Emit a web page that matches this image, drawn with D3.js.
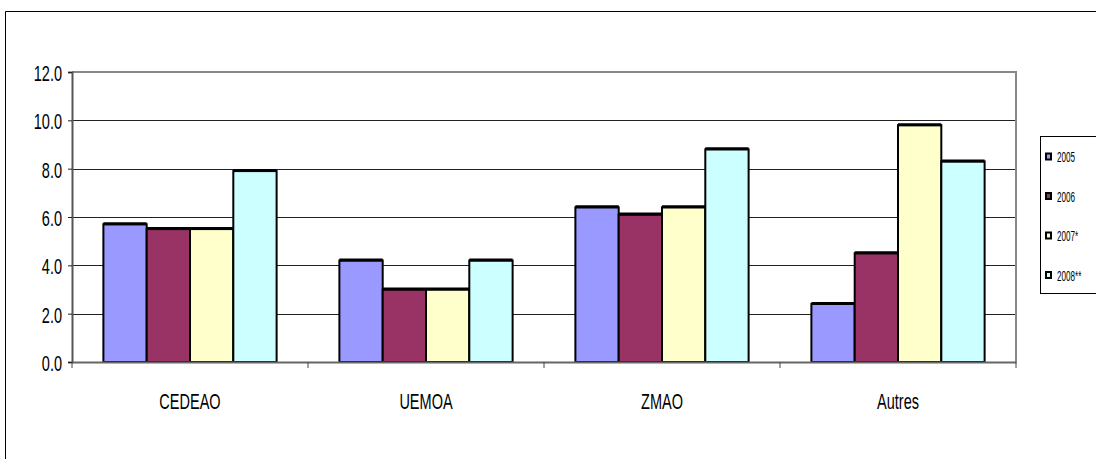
<!DOCTYPE html>
<html>
<head>
<meta charset="utf-8">
<script src="https://cdn.jsdelivr.net/npm/d3@7"></script>
<style>
  body { margin: 0; background: #fff; }
  text { font-family: "Liberation Sans", Arial, sans-serif; fill: #000; }
</style>
</head>
<body>
<div id="chart"></div>
<script>
(function() {

  var categories = ["CEDEAO", "UEMOA", "ZMAO", "Autres"];
  var seriesNames = ["2005", "2006", "2007*", "2008**"];
  var colors = ["#9999FF", "#993366", "#FFFFCC", "#CCFFFF"];
  var v2005 = [5.7, 4.2, 6.4, 2.4];
  var v2006 = [5.5, 3.0, 6.1, 4.5];
  var v2007 = [5.5, 3.0, 6.4, 9.8];
  var v2008 = [7.9, 4.2, 8.8, 8.3];
  var yTicks = [0, 2, 4, 6, 8, 10, 12];

  var series = [v2005, v2006, v2007, v2008];

  var width = 1096, height = 459;
  var left = 72, right = 1016, top = 72, bottom = 362;
  // the source uses a tall, squeezed font
  var squeeze = 0.66;

  var svg = d3.select("#chart").append("svg")
      .attr("width", width)
      .attr("height", height);

  // outer chart frame (cut by the window on right and bottom)
  svg.append("path")
      .attr("d", "M5.5," + height + " V11.5 H" + width)
      .attr("fill", "none")
      .attr("stroke", "#000")
      .attr("stroke-width", 1);

  var y = d3.scaleLinear().domain([0, 12]).range([bottom, top]);
  var x0 = d3.scaleBand().domain(categories).range([left, right])
      .paddingInner(0.266).paddingOuter(0.133);
  var x1 = d3.scaleBand().domain(d3.range(series.length)).range([0, x0.bandwidth()]);

  // gridlines
  svg.append("g").selectAll("line")
    .data(yTicks.filter(t => t > 0 && t < 12))
    .enter().append("line")
      .attr("x1", left).attr("x2", right)
      .attr("y1", d => Math.round(y(d)) + 0.5)
      .attr("y2", d => Math.round(y(d)) + 0.5)
      .attr("stroke", "#222")
      .attr("stroke-width", 1);

  // plot area top and right border
  svg.append("path")
      .attr("d", "M" + left + "," + y(12) + " H" + right + " V" + bottom)
      .attr("fill", "none")
      .attr("stroke", "#888")
      .attr("stroke-width", 2);

  // bars
  var groups = svg.append("g").selectAll("g")
    .data(categories)
    .enter().append("g")
      .attr("transform", d => "translate(" + x0(d) + ",0)");

  groups.selectAll("rect")
    .data((c, ci) => series.map((s, si) => ({si: si, v: s[ci]})))
    .enter().append("rect")
      .attr("x", d => x1(d.si))
      .attr("y", d => y(d.v))
      .attr("width", x1.bandwidth())
      .attr("height", d => y(0) - y(d.v))
      .attr("fill", d => colors[d.si])
      .attr("stroke", "#000")
      .attr("stroke-width", 2);

  groups.selectAll("line.top")
    .data((c, ci) => series.map((s, si) => ({si: si, v: s[ci]})))
    .enter().append("line")
      .attr("class", "top")
      .attr("x1", d => x1(d.si))
      .attr("x2", d => x1(d.si) + x1.bandwidth())
      .attr("y1", d => y(d.v) - 0.5)
      .attr("y2", d => y(d.v) - 0.5)
      .attr("stroke", "#000")
      .attr("stroke-width", 3);

  // y axis
  var yAxis = svg.append("g")
      .attr("transform", "translate(" + left + ",0)")
      .call(d3.axisLeft(y).tickValues(yTicks).tickFormat(d3.format(".1f")).tickSize(4));
  yAxis.select(".domain").attr("stroke", "#555").attr("stroke-width", 2);
  yAxis.selectAll(".tick line").attr("stroke", "#222");
  yAxis.selectAll("text")
      .style("font-size", "22px")
      .attr("x", -10 / squeeze)
      .attr("dy", "0.38em")
      .attr("transform", "scale(" + squeeze + ",1)");

  // x axis
  var xAxis = svg.append("g")
      .attr("transform", "translate(0," + bottom + ")")
      .call(d3.axisBottom(x0).tickSize(0));
  xAxis.select(".domain").attr("stroke", "#666").attr("stroke-width", 2);
  xAxis.selectAll("text")
      .style("font-size", "22px")
      .attr("y", 47)
      .attr("dy", null)
      .attr("transform", "scale(" + squeeze + ",1)");

  // category separators below axis
  var step = x0.step();
  svg.append("g").selectAll("line")
    .data(d3.range(categories.length + 1))
    .enter().append("line")
      .attr("x1", i => left + i * step)
      .attr("x2", i => left + i * step)
      .attr("y1", bottom)
      .attr("y2", bottom + 6)
      .attr("stroke", "#444")
      .attr("stroke-width", 1);

  // legend
  var legend = svg.append("g");
  legend.append("rect")
      .attr("x", 1040.5).attr("y", 136.5)
      .attr("width", 70).attr("height", 157)
      .attr("fill", "#fff")
      .attr("stroke", "#000")
      .attr("stroke-width", 1);

  var item = legend.selectAll("g.item")
    .data(seriesNames)
    .enter().append("g")
      .attr("class", "item")
      .attr("transform", (d, i) => "translate(1046," + (157 + i * 39.5) + ")");

  item.append("rect")
      .attr("x", 0).attr("y", -3.5)
      .attr("width", 5).attr("height", 6)
      .attr("fill", (d, i) => colors[i])
      .attr("stroke", "#000")
      .attr("stroke-width", 2);

  item.append("text")
      .attr("x", 11 / 0.58)
      .attr("y", 0)
      .attr("dy", "0.36em")
      .attr("transform", "scale(0.58,1)")
      .style("font-size", "14px")
      .text(d => d);

})();
</script>
</body>
</html>
